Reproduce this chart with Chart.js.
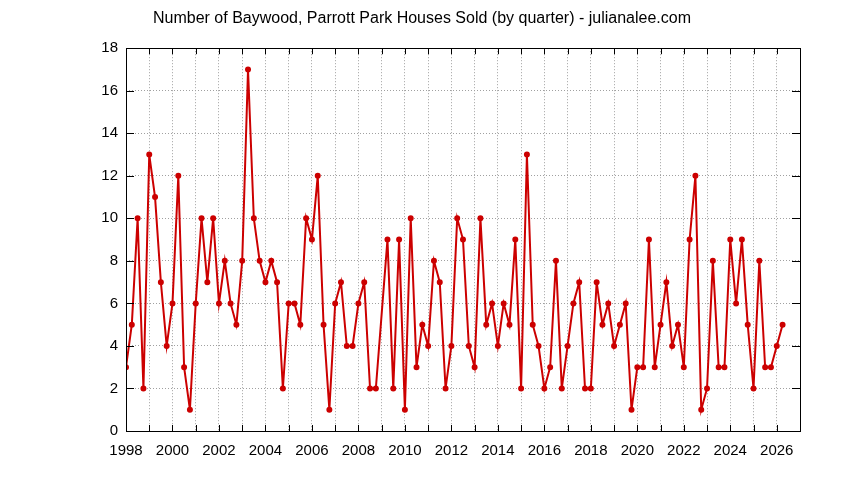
<!DOCTYPE html>
<html>
<head>
<meta charset="utf-8">
<script src="https://cdn.jsdelivr.net/npm/chart.js@4/dist/chart.umd.min.js"></script>
<style>
  html, body { margin: 0; padding: 0; background: #fff; }
</style>
</head>
<body>
<canvas id="salesChart" width="844" height="480"></canvas>
<script>
// houses sold per quarter, starting with Q1 1998 (null = no point)
const startYear = 1998;
const housesSold = [
    3, 5, 10, 2,     // 1998
    13, 11, 7, 4,    // 1999
    6, 12, 3, 1,     // 2000
    6, 10, 7, 10,    // 2001
    6, 8, 6, 5,      // 2002
    8, 17, 10, 8,    // 2003
    7, 8, 7, 2,      // 2004
    6, 6, 5, 10,     // 2005
    9, 12, 5, 1,     // 2006
    6, 7, 4, 4,      // 2007
    6, 7, 2, 2,      // 2008
    null, 9, 2, 9,   // 2009
    1, 10, 3, 5,     // 2010
    4, 8, 7, 2,      // 2011
    4, 10, 9, 4,     // 2012
    3, 10, 5, 6,     // 2013
    4, 6, 5, 9,      // 2014
    2, 13, 5, 4,     // 2015
    2, 3, 8, 2,      // 2016
    4, 6, 7, 2,      // 2017
    2, 7, 5, 6,      // 2018
    4, 5, 6, 1,      // 2019
    3, 3, 9, 3,      // 2020
    5, 7, 4, 5,      // 2021
    3, 9, 12, 1,     // 2022
    2, 8, 3, 3,      // 2023
    9, 6, 9, 5,      // 2024
    2, 8, 3, 3,      // 2025
    4, 5             // 2026
];
const xRange = [1998, 2027];
const yRange = [0, 18];
const yStep = 2;
const xLabelEvery = 2;

const points = housesSold.map((v, i) => ({ x: startYear + i / 4, y: v }));

const FONT = "'Liberation Sans', Arial, sans-serif";

// gnuplot-style frame with inward ticks on all four sides
const framePlugin = {
    id: "frame",
    afterDatasetsDraw(chart) {
        const { ctx, chartArea: a, scales } = chart;
        const xLen = 6, yLen = 8;
        ctx.save();
        ctx.strokeStyle = "#000";
        ctx.lineWidth = 1;
        ctx.beginPath();
        scales.x.ticks.forEach((t, i) => {
            const px = Math.round(scales.x.getPixelForTick(i)) + 0.5;
            ctx.moveTo(px, a.bottom); ctx.lineTo(px, a.bottom - xLen);
            ctx.moveTo(px, a.top); ctx.lineTo(px, a.top + xLen);
        });
        scales.y.ticks.forEach((t, i) => {
            const py = Math.round(scales.y.getPixelForTick(i)) + 0.5;
            ctx.moveTo(a.left, py); ctx.lineTo(a.left + yLen, py);
            ctx.moveTo(a.right, py); ctx.lineTo(a.right - yLen, py);
        });
        ctx.stroke();
        ctx.strokeRect(Math.round(a.left) + 0.5, Math.round(a.top) + 0.5,
            Math.round(a.right - a.left), Math.round(a.bottom - a.top));
        ctx.restore();
    },
};

new Chart(document.getElementById("salesChart"), {
    type: "line",
    data: {
        datasets: [
            {
                data: points,
                borderColor: "#cc0000",
                backgroundColor: "#cc0000",
                borderWidth: 2,
                pointRadius: 2,
                pointHoverRadius: 2,
                spanGaps: true,
                tension: 0,
            },
        ],
    },
    options: {
        responsive: false,
        animation: false,
        devicePixelRatio: 1,
        plugins: {
            legend: { display: false },
            tooltip: { enabled: false },
            title: {
                display: true,
                text: "Number of Baywood, Parrott Park Houses Sold (by quarter) - julianalee.com",
                color: "#000",
                font: { family: FONT, size: 16, weight: "normal" },
                padding: { top: 9, bottom: 20 },
            },
        },
        scales: {
            x: {
                type: "linear",
                min: xRange[0],
                max: xRange[1],
                afterFit(scale) { scale.height = 49; },
                ticks: {
                    stepSize: 1,
                    autoSkip: false,
                    maxRotation: 0,
                    padding: 11,
                    color: "#000",
                    font: { family: FONT, size: 15 },
                    callback: (v) => ((v - startYear) % xLabelEvery === 0 && v < xRange[1] ? String(v) : ""),
                },
                grid: { color: "#a0a0a0", drawTicks: false, lineWidth: 1 },
                border: { display: false, dash: [1, 2] },
            },
            y: {
                min: yRange[0],
                max: yRange[1],
                afterFit(scale) { scale.width = 126; },
                ticks: {
                    stepSize: yStep,
                    padding: 8,
                    color: "#000",
                    font: { family: FONT, size: 15 },
                },
                grid: { color: "#a0a0a0", drawTicks: false, lineWidth: 1 },
                border: { display: false, dash: [1, 2] },
            },
            // empty right margin so the title centres on the whole canvas
            yRight: {
                position: "right",
                afterFit(scale) { scale.width = 44; },
                ticks: { display: false },
                grid: { display: false, drawTicks: false },
                border: { display: false },
            },
        },
    },
    plugins: [framePlugin],
});
</script>
</body>
</html>
